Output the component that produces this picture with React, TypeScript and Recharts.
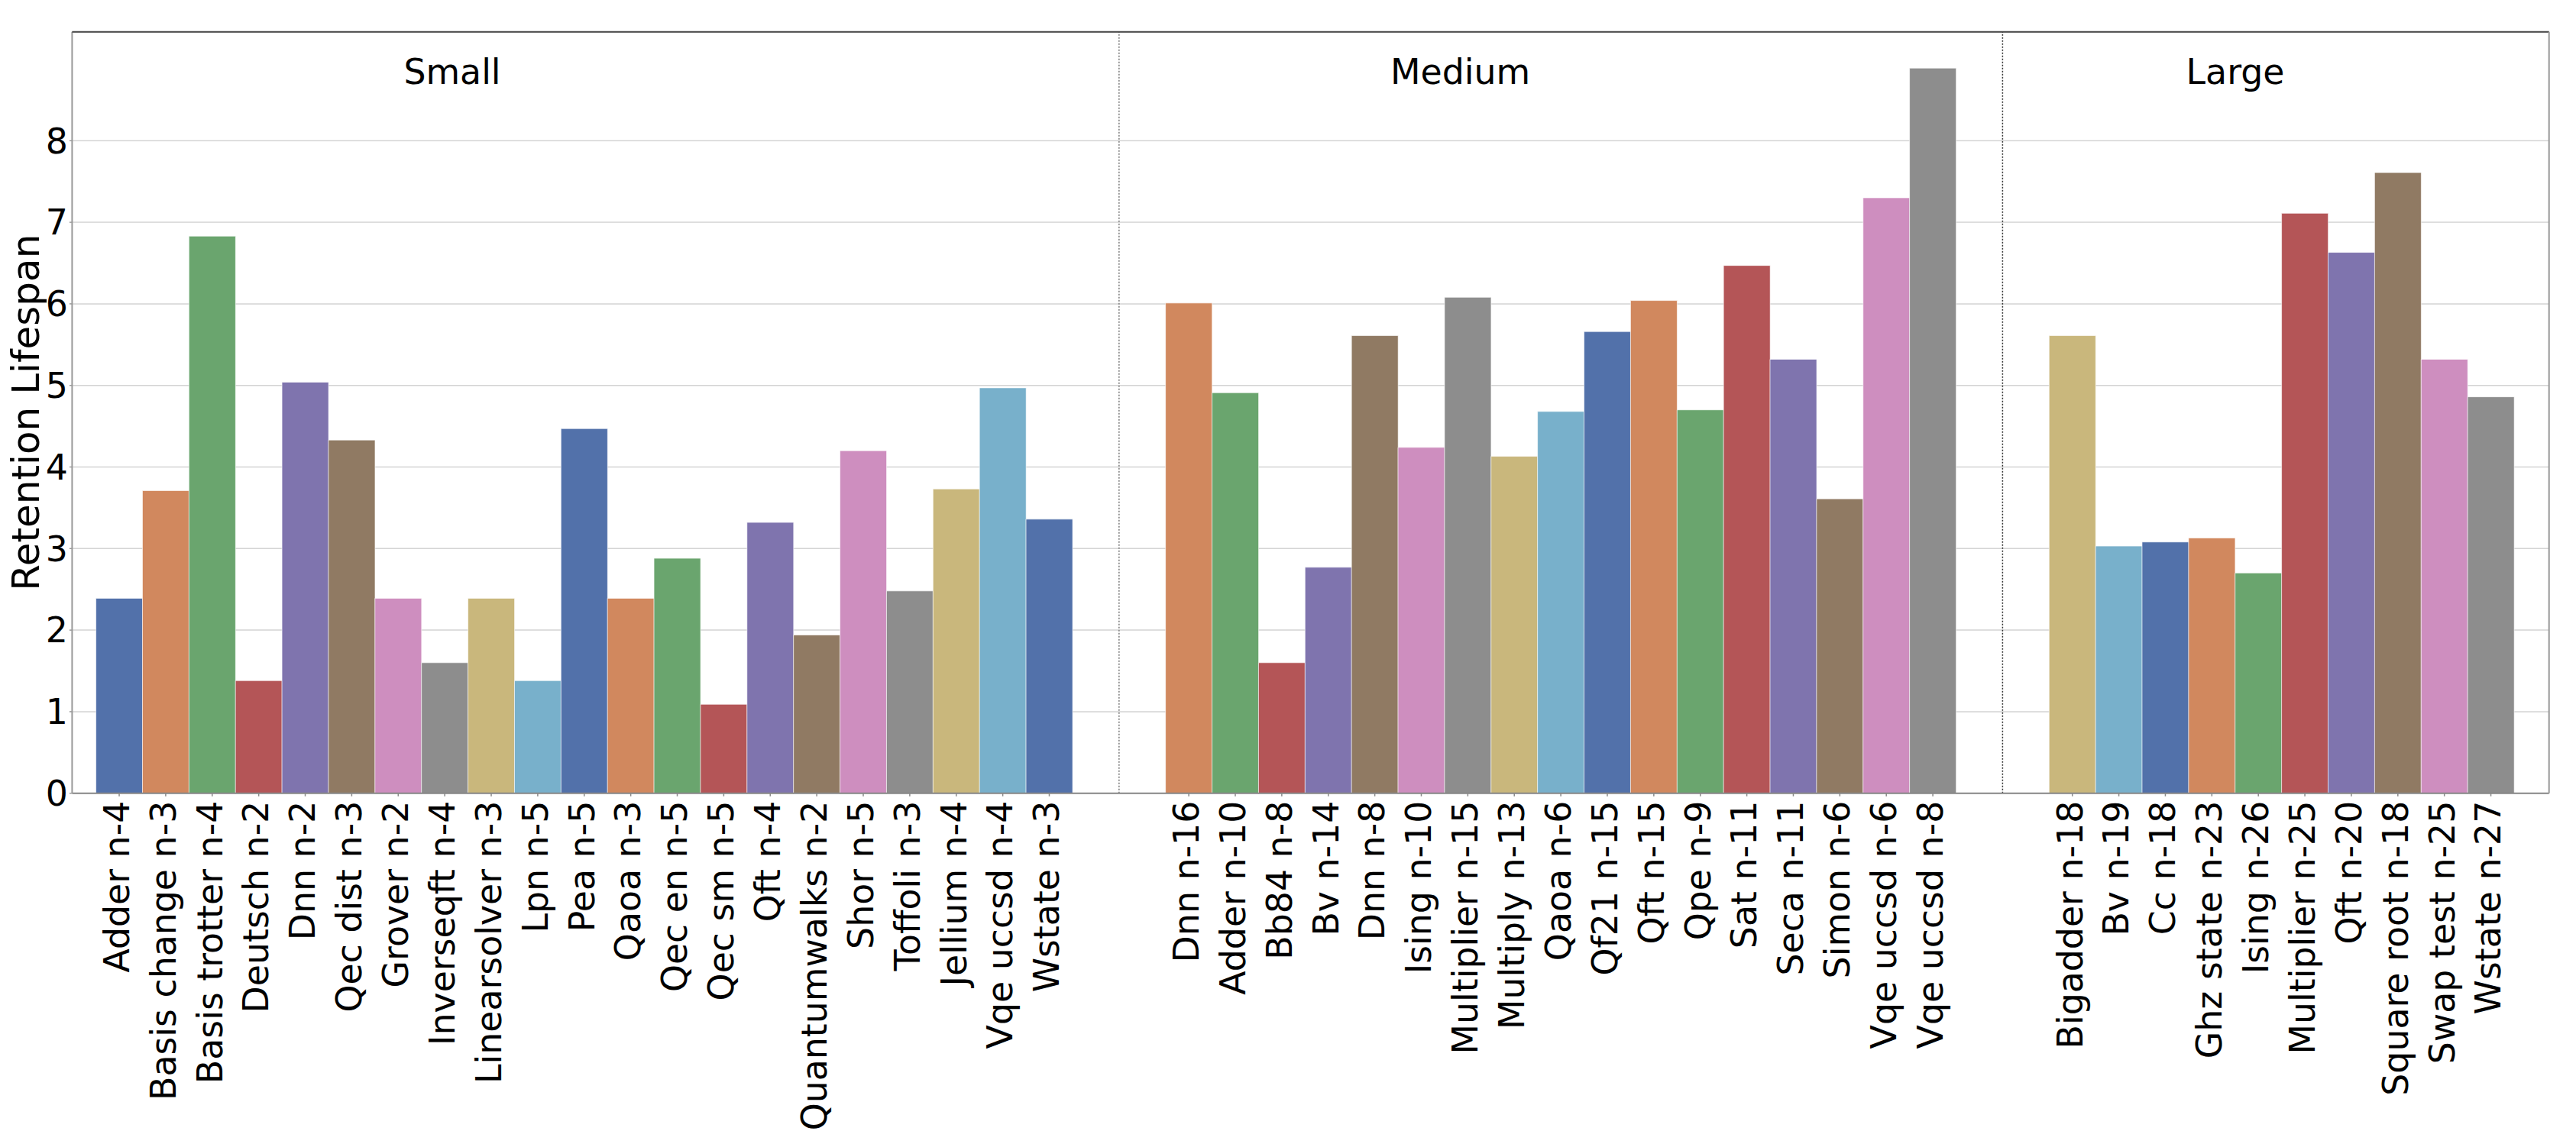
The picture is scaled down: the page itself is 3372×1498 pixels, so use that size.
import React from 'react';
import { BarChart, Bar, XAxis, YAxis, CartesianGrid, ReferenceLine, Cell } from 'recharts';

const smallNames = [
  'Adder n-4', 'Basis change n-3', 'Basis trotter n-4', 'Deutsch n-2', 'Dnn n-2', 'Qec dist n-3',
  'Grover n-2', 'Inverseqft n-4', 'Linearsolver n-3', 'Lpn n-5', 'Pea n-5', 'Qaoa n-3', 'Qec en n-5',
  'Qec sm n-5', 'Qft n-4', 'Quantumwalks n-2', 'Shor n-5', 'Toffoli n-3', 'Jellium n-4',
  'Vqe uccsd n-4', 'Wstate n-3',
];
const smallValues = [
  2.39, 3.71, 6.83, 1.38, 5.04, 4.33, 2.39, 1.6, 2.39, 1.38, 4.47, 2.39, 2.88, 1.09, 3.32, 1.94,
  4.2, 2.48, 3.73, 4.97, 3.36,
];

const mediumNames = [
  'Dnn n-16', 'Adder n-10', 'Bb84 n-8', 'Bv n-14', 'Dnn n-8', 'Ising n-10', 'Multiplier n-15',
  'Multiply n-13', 'Qaoa n-6', 'Qf21 n-15', 'Qft n-15', 'Qpe n-9', 'Sat n-11', 'Seca n-11',
  'Simon n-6', 'Vqe uccsd n-6', 'Vqe uccsd n-8',
];
const mediumValues = [
  6.01, 4.91, 1.6, 2.77, 5.61, 4.24, 6.08, 4.13, 4.68, 5.66, 6.04, 4.7, 6.47, 5.32, 3.61, 7.3, 8.89,
];

const largeNames = [
  'Bigadder n-18', 'Bv n-19', 'Cc n-18', 'Ghz state n-23', 'Ising n-26', 'Multiplier n-25',
  'Qft n-20', 'Square root n-18', 'Swap test n-25', 'Wstate n-27',
];
const largeValues = [5.61, 3.03, 3.08, 3.13, 2.7, 7.11, 6.63, 7.61, 5.32, 4.86];

const groupTitles = ['Small', 'Medium', 'Large'];
const yTicks = [0, 1, 2, 3, 4, 5, 6, 7, 8];
const yLabel = 'Retention Lifespan';

// muted seaborn-like "deep" palette as seen in the reference
const palette = [
  '#5271AA', '#D1885E', '#6AA56E', '#B45557', '#7F74AE',
  '#907A63', '#CE8EBF', '#8D8D8D', '#C9B77C', '#78B0CB',
];

const GAP = '__gap';
type Row = { name: string; value: number | null; color: string };
const rows: Row[] = [];
let colorIdx = 0;
const groups: [string[], number[]][] = [
  [smallNames, smallValues],
  [mediumNames, mediumValues],
  [largeNames, largeValues],
];
groups.forEach(([names, vals], gi) => {
  if (gi > 0) {
    rows.push({ name: `${GAP}${gi}a`, value: null, color: 'none' });
    rows.push({ name: `${GAP}${gi}b`, value: null, color: 'none' });
  }
  names.forEach((n, i) => {
    rows.push({ name: n, value: vals[i], color: palette[colorIdx % palette.length] });
    colorIdx += 1;
  });
});

const W = 3356;
const H = 1480;
const PLOT_LEFT = 86.4;
const PLOT_TOP = 33.7;
const PLOT_RIGHT = 3328.7;
const PLOT_BOTTOM = 1030.7;
const FONT = '"DejaVu Sans", sans-serif';
const TICK_FS = 45.8;

const XTick = (props: any) => {
  const { x, y, payload } = props;
  const label = payload && payload.value;
  if (typeof label !== 'string' || label.startsWith(GAP)) return <g />;
  return (
    <g>
      <line x1={x} x2={x} y1={y} y2={y + 4} stroke="#888" strokeWidth={1.5} />
      <text
        transform={`translate(${x},${y + 10}) rotate(-90)`}
        x={0}
        y={12.8}
        textAnchor="end"
        fontSize={TICK_FS}
        fontFamily={FONT}
        fill="#000"
      >
        {label}
      </text>
    </g>
  );
};

const YLabel = (props: any) => {
  const vb = props.viewBox || {};
  const cy = (vb.y ?? PLOT_TOP) + (vb.height ?? PLOT_BOTTOM - PLOT_TOP) / 2;
  return (
    <text
      transform={`translate(43,${cy}) rotate(-90)`}
      x={0}
      y={0}
      textAnchor="middle"
      fontSize={50}
      fontFamily={FONT}
      fill="#000"
    >
      {yLabel}
    </text>
  );
};

const titleCenters = [584, 1903.6, 2918];

export default function App() {
  return (
    <div style={{ position: 'relative', width: W, height: H, fontFamily: FONT, background: '#fff' }}>
      <BarChart
        width={W}
        height={H}
        data={rows}
        margin={{ top: PLOT_TOP, right: W - PLOT_RIGHT, bottom: 0, left: 0 }}
        barCategoryGap={0}
        barGap={0}
      >
        <XAxis
          dataKey="name"
          type="category"
          interval={0}
          tickLine={false}
          tickSize={0}
          tickMargin={0}
          tick={<XTick />}
          height={H - PLOT_BOTTOM}
          padding={{ left: 31.2, right: 45.7 }}
          axisLine={{ stroke: '#888', strokeWidth: 2 }}
        />
        <YAxis
          type="number"
          domain={[0, 9.335]}
          ticks={yTicks}
          width={PLOT_LEFT}
          tickSize={3.5}
          tickMargin={2}
          tick={{ fontSize: TICK_FS, fill: '#000', fontFamily: FONT }}
          tickLine={{ stroke: '#999', strokeWidth: 1.5 }}
          axisLine={{ stroke: '#999', strokeWidth: 2 }}
          label={<YLabel />}
        />
        <Bar
          dataKey="value"
          isAnimationActive={false}
          stroke="#ffffff"
          strokeOpacity={0.6}
          strokeWidth={1}
        >
          {rows.map((r) => (
            <Cell key={r.name} fill={r.color} />
          ))}
        </Bar>
        <CartesianGrid vertical={false} stroke="#b0b0b0" strokeOpacity={0.55} strokeWidth={1.5} />
        <ReferenceLine x={`${GAP}1a`} position="end" stroke="#888" strokeDasharray="2 2" strokeWidth={1.8} />
        <ReferenceLine x={`${GAP}2a`} position="end" stroke="#333" strokeDasharray="2 2" strokeWidth={1.5} />
      </BarChart>
      <svg
        width={W}
        height={H}
        style={{ position: 'absolute', left: 0, top: 0, pointerEvents: 'none' }}
      >
        <line x1={PLOT_LEFT} x2={PLOT_RIGHT} y1={PLOT_TOP} y2={PLOT_TOP} stroke="#444" strokeWidth={2} />
        <line x1={PLOT_RIGHT} x2={PLOT_RIGHT} y1={PLOT_TOP} y2={PLOT_BOTTOM} stroke="#999" strokeWidth={2} />
        {groupTitles.map((t, i) => (
          <text key={t} x={titleCenters[i]} y={102} textAnchor="middle" fontSize={TICK_FS} fontFamily={FONT} fill="#000">
            {t}
          </text>
        ))}
      </svg>
    </div>
  );
}
